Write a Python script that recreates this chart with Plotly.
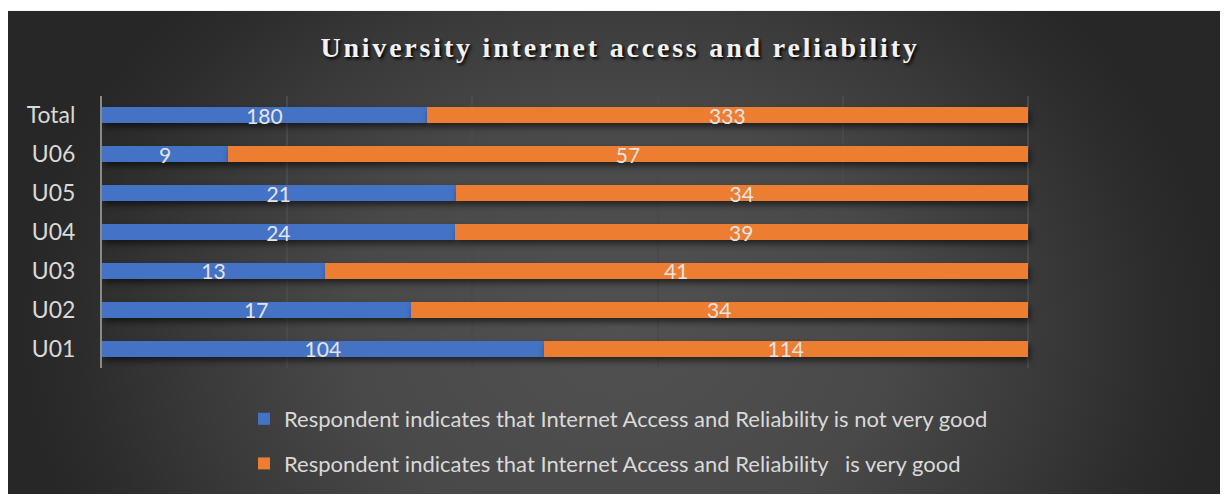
import base64
import plotly.graph_objects as go

categories = ["U01", "U02", "U03", "U04", "U05", "U06", "Total"]
not_very_good = [104, 17, 13, 24, 21, 9, 180]
very_good = [114, 34, 41, 39, 34, 57, 333]
series_names = [
    "Respondent indicates that Internet Access and Reliability is not very good",
    "Respondent indicates that Internet Access and Reliability\u00a0\u00a0 is very good",
]
title_text = "University internet access and reliability"

# figure sits inside the page with the browser's 8px body margin
W, H = 1220, 487
L, R, T, B = 94, 15, 87.5, 126.5
pw, ph = W - L - R, H - T - B

svg = (
    '<svg xmlns="http://www.w3.org/2000/svg" width="1220" height="485" preserveAspectRatio="none">'
    '<defs><radialGradient id="g" gradientUnits="userSpaceOnUse" cx="612" cy="320" r="600" '
    'gradientTransform="translate(612 320) scale(1 0.8) translate(-612 -320)">'
    '<stop offset="0" stop-color="#515151"/><stop offset="0.45" stop-color="#494949"/>'
    '<stop offset="0.7" stop-color="#3a3a3a"/><stop offset="0.9" stop-color="#2c2c2c"/>'
    '<stop offset="1" stop-color="#272727"/></radialGradient></defs>'
    '<rect width="1220" height="485" fill="url(#g)"/></svg>'
)
src = "data:image/svg+xml;base64," + base64.b64encode(svg.encode()).decode()

font_fam = "Lato, 'Open Sans', sans-serif"

fig = go.Figure()
fig.add_trace(go.Bar(
    y=categories, x=not_very_good, orientation="h", name=series_names[0],
    marker=dict(color="#4472C4", line=dict(width=0)),
    text=not_very_good, textposition="inside", insidetextanchor="middle",
    constraintext="none", textangle=0,
    textfont=dict(color="#e4e4e4", size=21, family=font_fam),
    legendgroup="a",
))
fig.add_trace(go.Bar(
    y=categories, x=very_good, orientation="h", name=series_names[1],
    marker=dict(color="#ED7D31", line=dict(width=0)),
    text=very_good, textposition="inside", insidetextanchor="middle",
    constraintext="none", textangle=0,
    textfont=dict(color="#e4e4e4", size=21, family=font_fam),
    legendgroup="b",
))

fig.update_layout(
    width=W, height=H,
    barmode="stack", barnorm="fraction", bargap=0.59,
    paper_bgcolor="white", plot_bgcolor="rgba(0,0,0,0)",
    margin=dict(l=L, r=R, t=T, b=B, autoexpand=False),
    title=dict(
        text="<b>" + title_text + "</b>",
        x=612 / W, xref="container", xanchor="center",
        y=1 - 39 / H, yref="container", yanchor="middle",
        font=dict(family="'Liberation Serif', 'DejaVu Serif', serif", size=28, color="#f2f2f2",
                  shadow="2px 2px 3px #000"),
    ),
    xaxis=dict(range=[0, 1.2], dtick=0.2, showticklabels=False, showgrid=True,
               gridcolor="#4a4a4a", gridwidth=2, zeroline=False, showline=False,
               fixedrange=True),
    yaxis=dict(showgrid=False, showline=True, linecolor="#8a8a8a", linewidth=2,
               ticks="", ticklabelstandoff=20,
               tickfont=dict(family=font_fam, size=23, color="#d9d9d9"),
               fixedrange=True),
    showlegend=True,
    legend=dict(
        orientation="v", xref="container", yref="container",
        x=236 / W, xanchor="left", y=1 - 390 / H, yanchor="top",
        traceorder="grouped", tracegroupgap=13,
        font=dict(family=font_fam, size=22, color="#d9d9d9"),
        bgcolor="rgba(0,0,0,0)",
    ),
    images=[dict(
        source=src, xref="paper", yref="paper",
        x=-L / pw, y=1 + (T - 2) / ph,
        sizex=W / pw, sizey=(H - 2) / ph,
        sizing="stretch", layer="below", xanchor="left", yanchor="top",
    )],
)

post = (
    "document.querySelectorAll('.gtitle').forEach(function(e){"
    "e.style.letterSpacing='2.8px';});"
    "document.querySelectorAll('.barlayer .point path').forEach(function(e){"
    "e.style.filter='drop-shadow(2px 4px 3px rgba(0,0,0,0.55))';});"
)
fig.write_html("out.html", post_script=post)
